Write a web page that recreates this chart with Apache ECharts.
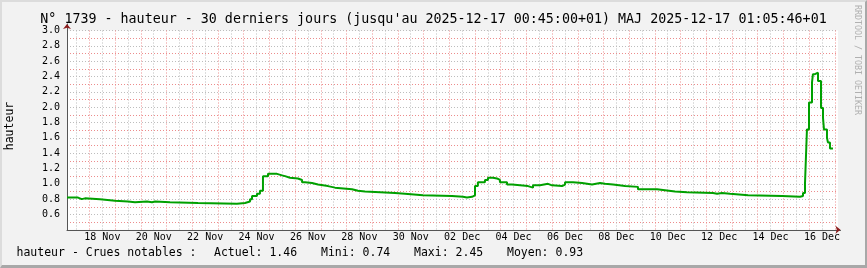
<!DOCTYPE html>
<html><head><meta charset="utf-8">
<script src="https://cdn.jsdelivr.net/npm/echarts@6/dist/echarts.min.js"></script>
<style>
html,body{margin:0;padding:0;background:#f2f2f2;}
#wrap{position:relative;width:867px;height:268px;overflow:hidden;}
#chart{position:absolute;left:0;top:0;width:867px;height:268px;}
#frame{position:absolute;left:0;top:0;width:867px;height:268px;box-sizing:border-box;border-top:2px solid #dcdcdc;border-left:2px solid #dcdcdc;border-right:2px solid #a8a8a8;border-bottom:3px solid #a8a8a8;pointer-events:none;}
</style></head><body>
<div id="wrap"><div id="chart"></div><div id="frame"></div></div>
<script>
// time in hours since 2025-11-18 00:00 (start of each step level)
const stepHours = [-21, -10.7, -7.3, -4.2, 9.8, 23.8, 36, 42.5, 53.7, 58.4, 61.2, 75.2, 101.3, 137.7, 145.2, 149.9, 151.8, 156.4, 159.2, 162.0,
  166.7, 175.1, 179.8, 182.6, 187.2, 194.7, 198.5, 201.3, 207.8, 213.4, 222.7, 229.3, 245.1, 250.8, 257.3, 285.3, 294.6, 311.4, 338.5, 348.8,
  352.5, 357.2, 360.0, 362.7, 369.3, 372.1, 376.8, 380.5, 383.3, 389.9, 394.6, 409.5, 414.2, 420.7, 428.2, 431.9, 441.3, 444.1, 451.5, 460.0,
  469.3, 476.8, 481.5, 488.9, 500.1, 512.2, 530.0, 535.6, 546.8, 558.0, 582.3, 586.1, 590.7, 598.2, 615.0, 646.7, 663.5, 666.3, 668.2, 670.0,
  671.9, 674.7, 675.6, 677.5, 680.3, 683.1, 685.0, 685.9, 688.7, 689.6, 691.5, 694.3];
const hauteurValues = [0.82, 0.80, 0.81, 0.80, 0.78, 0.77, 0.76, 0.77, 0.76, 0.77, 0.76, 0.75, 0.74, 0.75, 0.77, 0.80, 0.84, 0.87, 0.91, 1.10,
  1.13, 1.11, 1.10, 1.08, 1.07, 1.05, 1.02, 1.01, 0.99, 0.97, 0.95, 0.93, 0.91, 0.90, 0.88, 0.87, 0.85, 0.84, 0.83, 0.82,
  0.83, 0.85, 0.97, 1.02, 1.05, 1.08, 1.07, 1.05, 1.02, 0.99, 0.97, 0.95, 0.98, 1.00, 0.98, 0.97, 0.99, 1.02, 1.01, 0.99,
  1.01, 1.00, 0.99, 0.97, 0.96, 0.93, 0.92, 0.90, 0.89, 0.88, 0.87, 0.88, 0.87, 0.85, 0.84, 0.83, 0.84, 0.88, 1.01, 1.71,
  2.06, 2.32, 2.43, 2.45, 2.34, 1.99, 1.86, 1.71, 1.60, 1.54, 1.46, 1.46];
const xLabelHours = [12, 60, 108, 156, 204, 252, 300, 348, 396, 444, 492, 540, 588, 636, 684];
const xLabels = ['18 Nov', '20 Nov', '22 Nov', '24 Nov', '26 Nov', '28 Nov', '30 Nov', '02 Dec', '04 Dec', '06 Dec', '08 Dec', '10 Dec', '12 Dec', '14 Dec', '16 Dec'];
const yLabelValues = [0.6, 0.8, 1.0, 1.2, 1.4, 1.6, 1.8, 2.0, 2.2, 2.4, 2.6, 2.8, 3.0];
const titleText = "N° 1739 - hauteur - 30 derniers jours (jusqu'au 2025-12-17 00:45:00+01) MAJ 2025-12-17 01:05:46+01";
const legendTexts = ['hauteur - Crues notables :', 'Actuel: 1.46', 'Mini: 0.74', 'Maxi: 2.45', 'Moyen: 0.93'];

const MONO = '"DejaVu Sans Mono", monospace';
const RED = '#ec8c8c', GREY = '#bdbdbd', T = 'rgba(0,0,0,0)';
const seriesData = stepHours.map((h, i) => [h, hauteurValues[i]]);
// x ticks every 3h from -21: index%8==7 -> midnight (major), index%8==3 -> noon (minor)
const xGridColors = [T, T, T, GREY, T, T, T, RED];
// y ticks every 0.1 from 0.4: even index -> multiple of 0.2 (major), odd -> minor
const yGridColors = [RED, GREY];

const chart = echarts.init(document.getElementById('chart'), null, {renderer: 'canvas'});
const legX = [16.5, 214, 321, 414, 507];
const option = {
  backgroundColor: '#f2f2f2',
  animation: false,
  textStyle: {fontFamily: MONO},
  grid: [
    {left: 67, top: 30.5, width: 771, height: 199.3, show: true, backgroundColor: '#ffffff', borderWidth: 0},
    {left: 67, top: 24, width: 773.5, height: 205.8, show: false},
    {left: 67, top: 24, width: 773.5, height: 205.8, show: false}
  ],
  xAxis: [
    {gridIndex: 0, type: 'value', min: -21, max: 699, interval: 3,
      axisLine: {show: false, onZero: false}, axisTick: {show: false},
      axisLabel: {show: true, margin: 3, fontSize: 10, color: '#000', fontFamily: MONO,
        formatter: v => { const i = xLabelHours.findIndex(h => Math.abs(h - v) < 1e-6); return i >= 0 ? xLabels[i] : ''; }},
      splitLine: {show: true, lineStyle: {color: xGridColors, width: 1, type: [1, 2]}}},
    {gridIndex: 1, type: 'value', min: 0, max: 1, axisLine: {show: true, onZero: false, lineStyle: {color: '#555555', width: 1}},
      axisTick: {show: false}, axisLabel: {show: false}, splitLine: {show: false}},
    {gridIndex: 2, type: 'value', min: 0, max: 1, axisLine: {show: true, onZero: false, symbol: ['none', 'arrow'], symbolSize: [6, 5], lineStyle: {color: '#8b1c1c', width: 0}},
      axisTick: {show: false}, axisLabel: {show: false}, splitLine: {show: false}}
  ],
  yAxis: [
    {gridIndex: 0, type: 'value', min: 0.4, max: 3.0, interval: 0.1,
      axisLine: {show: false, onZero: false}, axisTick: {show: false},
      axisLabel: {show: true, margin: 7, fontSize: 10, color: '#000', fontFamily: MONO,
        formatter: v => { const i = yLabelValues.findIndex(y => Math.abs(y - v) < 1e-6); return i >= 0 ? yLabelValues[i].toFixed(1) : ''; }},
      splitLine: {show: true, showMinLine: false, lineStyle: {color: yGridColors, width: 1, type: [1, 2]}}},
    {gridIndex: 1, type: 'value', min: 0, max: 1, axisLine: {show: true, onZero: false, lineStyle: {color: '#555555', width: 1}},
      axisTick: {show: false}, axisLabel: {show: false}, splitLine: {show: false}},
    {gridIndex: 2, type: 'value', min: 0, max: 1, axisLine: {show: true, onZero: false, symbol: ['none', 'arrow'], symbolSize: [6, 5], lineStyle: {color: '#8b1c1c', width: 0}},
      axisTick: {show: false}, axisLabel: {show: false}, splitLine: {show: false}}
  ],
  series: [{
    type: 'line', xAxisIndex: 0, yAxisIndex: 0, data: seriesData, step: 'end',
    symbol: 'none', showSymbol: false, clip: true,
    lineStyle: {color: '#00a000', width: 2}, itemStyle: {color: '#00a000'}, z: 3
  }],
  graphic: [
    {type: 'text', x: 433.5, y: 19.5, style: {text: titleText, font: '13.33px ' + MONO, fill: '#000', textAlign: 'center', textVerticalAlign: 'middle'}},
    {type: 'text', x: 10, y: 126, rotation: Math.PI / 2, style: {text: 'hauteur', font: '11.5px ' + MONO, fill: '#000', textAlign: 'center', textVerticalAlign: 'middle'}},
    {type: 'text', x: 857, y: 60, rotation: -Math.PI / 2, style: {text: 'RRDTOOL / TOBI OETIKER', font: '8.3px ' + MONO, fill: '#b0b0b0', textAlign: 'center', textVerticalAlign: 'middle'}}
  ].concat(legendTexts.map((t, i) => ({type: 'text', x: legX[i], y: 253.5,
    style: {text: t, font: '11.5px ' + MONO, fill: '#000', textAlign: 'left', textVerticalAlign: 'middle'}})))
};
chart.setOption(option);
</script>
</body></html>
